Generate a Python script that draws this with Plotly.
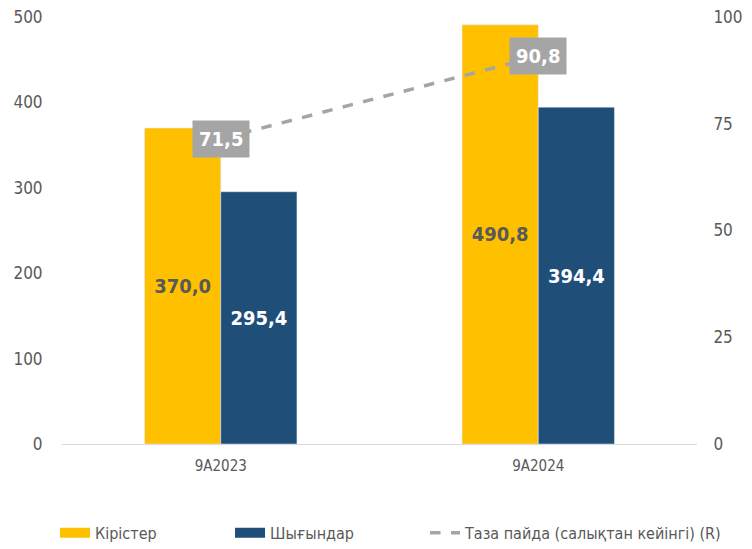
import plotly.graph_objects as go

categories = ["9A2023", "9A2024"]
revenue = [370.0, 490.8]
expenses = [295.4, 394.4]
net_profit = [71.5, 90.8]

series_names = ["Кірістер", "Шығындар", "Таза пайда (салықтан кейінгі) (R)"]
left_ticks = [0, 100, 200, 300, 400, 500]
right_ticks = [0, 25, 50, 75, 100]

YELLOW = "#FFC000"
BLUE = "#1F4E79"
GRAY = "#A5A5A5"
TEXT = "#595959"
FONT = "DejaVu Sans Condensed, sans-serif"

def fmt(v):
    return f"{v:.1f}".replace(".", ",")

fig = go.Figure()
fig.add_trace(go.Bar(
    x=categories, y=revenue, name=series_names[0], marker_color=YELLOW,
    text=[fmt(v) for v in revenue], textposition="inside", insidetextanchor="middle",
    textfont=dict(family=FONT, size=20, color=TEXT, weight="bold"),
    showlegend=False, textangle=0,
))
fig.add_trace(go.Bar(
    x=categories, y=expenses, name=series_names[1], marker_color=BLUE,
    text=[fmt(v) for v in expenses], textposition="inside", insidetextanchor="middle",
    textfont=dict(family=FONT, size=20, color="white", weight="bold"),
    showlegend=False, textangle=0,
))
fig.add_trace(go.Scatter(
    x=categories, y=net_profit, name=series_names[2], yaxis="y2", mode="lines",
    line=dict(color=GRAY, width=3.5, dash="dash"), showlegend=False,
))
# legend proxies (one legend each, to place them like the original)
fig.add_trace(go.Scatter(x=[None], y=[None], mode="lines", name=series_names[0],
                         line=dict(color=YELLOW, width=10), legend="legend"))
fig.add_trace(go.Scatter(x=[None], y=[None], mode="lines", name=series_names[1],
                         line=dict(color=BLUE, width=10), legend="legend2"))
fig.add_trace(go.Scatter(x=[None], y=[None], mode="lines", name=series_names[2],
                         line=dict(color=GRAY, width=3.5, dash="dash"), legend="legend3"))

for c, v in zip(categories, net_profit):
    fig.add_annotation(x=c, y=v, xref="x", yref="y2", text=fmt(v), showarrow=False,
                       bgcolor=GRAY, borderpad=6,
                       font=dict(family=FONT, size=20, color="white", weight="bold"))

leg_common = dict(orientation="h", xanchor="left", y=-0.168, yanchor="top",
                  font=dict(size=16, color=TEXT), bgcolor="rgba(0,0,0,0)")

fig.update_layout(
    width=752, height=549,
    margin=dict(l=62, r=55, t=17, b=105, autoexpand=False),
    paper_bgcolor="white", plot_bgcolor="white",
    barmode="group", bargap=0.52, bargroupgap=0,
    font=dict(family=FONT, size=17, color=TEXT),
    xaxis=dict(showgrid=False, showline=True, linecolor="#D9D9D9", linewidth=1,
               ticks="outside", ticklen=8, tickcolor="rgba(0,0,0,0)",
               tickfont=dict(size=15, color=TEXT), automargin=False),
    yaxis=dict(range=[0, 500], tickvals=left_ticks, showgrid=False, zeroline=False,
               ticks="outside", ticklen=15, tickcolor="rgba(0,0,0,0)",
               tickfont=dict(size=17, color=TEXT), automargin=False),
    yaxis2=dict(range=[0, 100], tickvals=right_ticks, overlaying="y", side="right",
                showgrid=False, zeroline=False, ticks="outside", ticklen=12,
                tickcolor="rgba(0,0,0,0)", tickfont=dict(size=17, color=TEXT),
                automargin=False),
    legend=dict(x=-0.011, **leg_common),
    legend2=dict(x=0.2646, **leg_common),
    legend3=dict(x=0.5717, **leg_common),
)

# remove the default 8px page margin so the figure sits at the window origin
fig.write_html("out.html", config={"displayModeBar": False},
               post_script="document.body.style.margin='0';")
